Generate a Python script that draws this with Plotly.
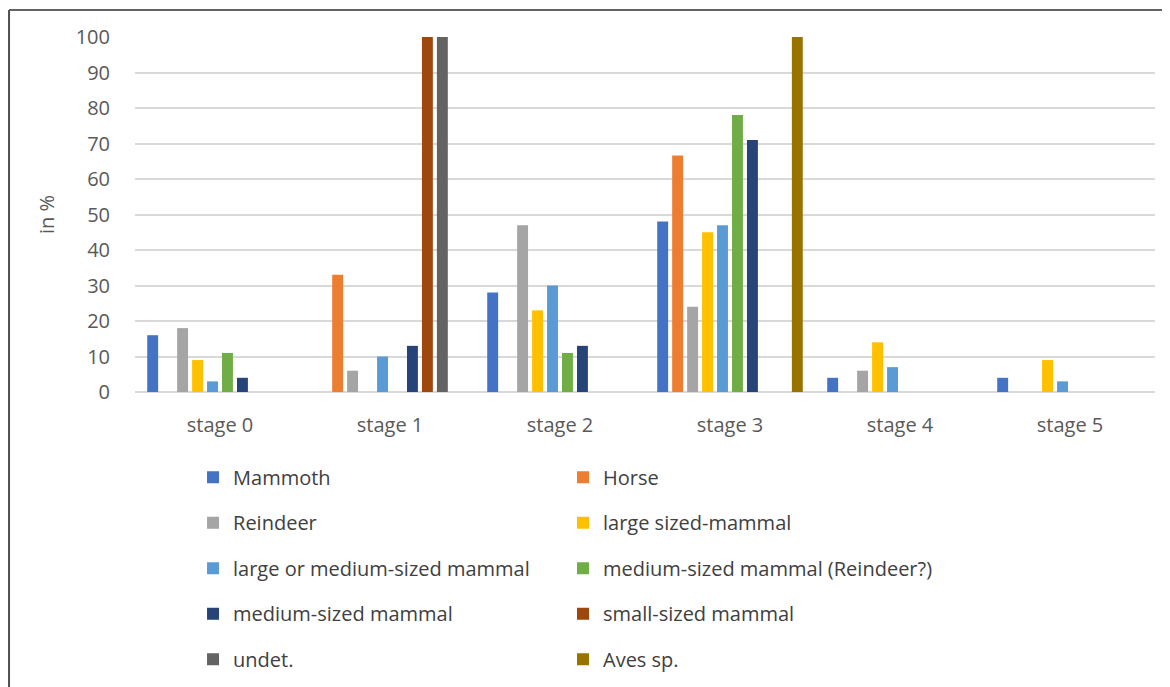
import plotly.graph_objects as go

stages = ["stage 0", "stage 1", "stage 2", "stage 3", "stage 4", "stage 5"]

series_names = [
    "Mammoth", "Horse", "Reindeer", "large sized-mammal",
    "large or medium-sized mammal", "medium-sized mammal (Reindeer?)",
    "medium-sized mammal", "small-sized mammal", "undet.", "Aves sp.",
]

mammoth = [16, 0, 28, 48, 4, 4]
horse = [0, 33, 0, 66.6, 0, 0]
reindeer = [18, 6, 47, 24, 6, 0]
large_sized = [9, 0, 23, 45, 14, 9]
large_or_medium = [3, 10, 30, 47, 7, 3]
medium_reindeer = [11, 0, 11, 78, 0, 0]
medium_sized = [4, 13, 13, 71, 0, 0]
small_sized = [0, 100, 0, 0, 0, 0]
undet = [0, 100, 0, 0, 0, 0]
aves = [0, 0, 0, 100, 0, 0]

series_values = [mammoth, horse, reindeer, large_sized, large_or_medium,
                 medium_reindeer, medium_sized, small_sized, undet, aves]

colors = ["#4472C4", "#ED7D31", "#A5A5A5", "#FFC000", "#5B9BD5",
          "#70AD47", "#264478", "#9E480E", "#636363", "#997300"]

y_ticks = [0, 10, 20, 30, 40, 50, 60, 70, 80, 90, 100]

FONT = "Open Sans"
FS = 20

fig = go.Figure()
for i, (name, vals, col) in enumerate(zip(series_names, series_values, colors)):
    fig.add_trace(go.Bar(
        x=stages, y=vals, name=name, marker_color=col, marker_line_width=0,
        legendgroup=f"g{i}",
        legend="legend" if i % 2 == 0 else "legend2",
    ))

legend_common = dict(
    y=-0.185, xanchor="left", yanchor="top",
    orientation="v", traceorder="grouped", tracegroupgap=16.5,
    font=dict(family=FONT, size=FS, color="#404040"),
    bgcolor="rgba(0,0,0,0)",
)

fig.update_layout(
    width=1162, height=720,
    margin=dict(l=127, r=15, t=29, b=336, autoexpand=False),
    paper_bgcolor="white", plot_bgcolor="white",
    barmode="group", bargap=0.12, bargroupgap=0.27,
    font=dict(family=FONT, size=FS, color="#595959"),
    showlegend=True,
    legend=dict(x=0.0569, **legend_common),
    legend2=dict(x=0.4196, **legend_common),
    xaxis=dict(
        showgrid=False, showline=False, ticks="",
        ticklabelstandoff=19,
        tickfont=dict(family=FONT, size=FS, color="#595959"),
    ),
    yaxis=dict(
        range=[0, 100], tickvals=y_ticks, showgrid=True,
        gridcolor="#D9D9D9", gridwidth=1.5, zeroline=True,
        zerolinecolor="#D9D9D9", zerolinewidth=1.5,
        ticks="", ticklabelstandoff=24,
        tickfont=dict(family=FONT, size=FS, color="#595959"),
        title=dict(text="in %", standoff=15,
                   font=dict(family=FONT, size=FS, color="#595959")),
    ),
    shapes=[
        dict(type="line", xref="paper", yref="paper",
             x0=-0.1235, x1=1.03, y0=1.0761, y1=1.0761,
             line=dict(color="#303030", width=1.5)),
        dict(type="line", xref="paper", yref="paper",
             x0=-0.1235, x1=-0.1235, y0=1.0761, y1=-0.94,
             line=dict(color="#505050", width=2)),
    ],
)

fig.write_html("out.html")
